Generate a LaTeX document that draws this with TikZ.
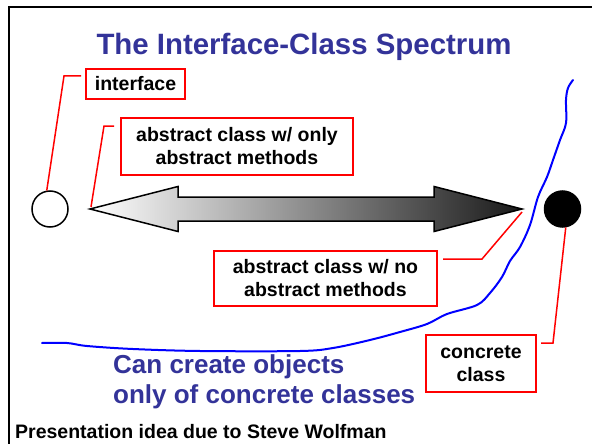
\documentclass[tikz,border=0pt]{standalone}
\usepackage{fontspec}
\setmainfont{Liberation Sans}
\definecolor{titleblue}{HTML}{333399}
\newcommand\boxfont{\fontsize{19.5}{23}\selectfont\bfseries}
\begin{document}
\begin{tikzpicture}[x=1pt,y=-1pt,
  tbox/.style={draw=red, line width=2pt, fill=white, align=center, inner sep=0pt, font=\boxfont, text=black},
  leader/.style={red, line width=1.5pt},
  blueline/.style={blue, line width=2pt, line cap=round, line join=round},
  dotnode/.style={circle, draw=black, line width=1.5pt, minimum size=36pt, inner sep=0pt}]
\useasboundingbox (0,0) rectangle (592,444);
\fill[white] (0,0) rectangle (592,444);
% frame
\draw[line width=2pt] (8.5,444) -- (8.5,7) -- (592,7);
% title
\node[anchor=base, inner sep=0pt, text=titleblue, font=\fontsize{29.4}{34}\selectfont\bfseries] (title) at (304,55) {The Interface-Class Spectrum};
% circles
\node[dotnode, fill=white] (iface) at (50,209) {};
\node[dotnode, fill=black] (conc) at (562.5,209) {};
% arrow
\coordinate (ltip) at (90,209);
\coordinate (rtip) at (522,209);
\shade[left color=white, middle color=black!22, right color=black!90, draw=black, line width=1.5pt, line join=miter]
  (ltip) -- (178,186.5) -- (178,197) -- (434,197) -- (434,186.5) -- (rtip)
  -- (434,231.5) -- (434,221) -- (178,221) -- (178,231.5) -- cycle;
% blue curve
\draw[blueline] plot[smooth, tension=0.55] coordinates {
  (573,80) (568,88) (566,100) (566,123) (560,140) (553,160) (547,177) (538,197)
  (530,225) (520,247) (510,261) (502,277) (490,293) (477,305) (447,314) (427,324)
  (400,332) (370,340) (333,348) (300,351) (200,351) (133,349) (87,346) (67,343) (42,343)};
% boxes
\node[tbox, minimum width=99pt, minimum height=30pt] (ibox) at (135.5,84) {interface};
\node[tbox, minimum width=232pt, minimum height=57pt] (abox) at (237,146.5) {abstract class w/ only\\abstract methods};
\node[tbox, minimum width=223pt, minimum height=55pt] (nbox) at (325.5,278.5) {abstract class w/ no\\abstract methods};
\node[tbox, minimum width=110pt, minimum height=57pt] (cbox) at (481,363.5) {concrete\\class};
% leaders
\draw[leader] ([shift={(-4,-8)}]ibox.west) -- ++(-17,0) -- (iface.100);
\draw[leader] ([shift={(-6,-20.5)}]abox.west) -- ++(-10,0) -- ([shift={(1,-2)}]ltip);
\draw[leader] ([shift={(5,-19.5)}]nbox.east) -- ++(39,0) -- ([shift={(0,3)}]rtip);
\draw[leader] ([shift={(4,-20.5)}]cbox.east) -- ++(12,0) -- (conc.-80);
% bottom texts
\node[anchor=base west, inner sep=0pt, text=titleblue, font=\fontsize{26}{30}\selectfont\bfseries] (can1) at (113,373) {Can create objects};
\node[anchor=base west, inner sep=0pt, text=titleblue, font=\fontsize{26}{30}\selectfont\bfseries] (can2) at (113,403) {only of concrete classes};
\node[anchor=base west, inner sep=0pt, font=\boxfont] (credit) at (15,438) {Presentation idea due to Steve Wolfman};
\end{tikzpicture}
\end{document}
